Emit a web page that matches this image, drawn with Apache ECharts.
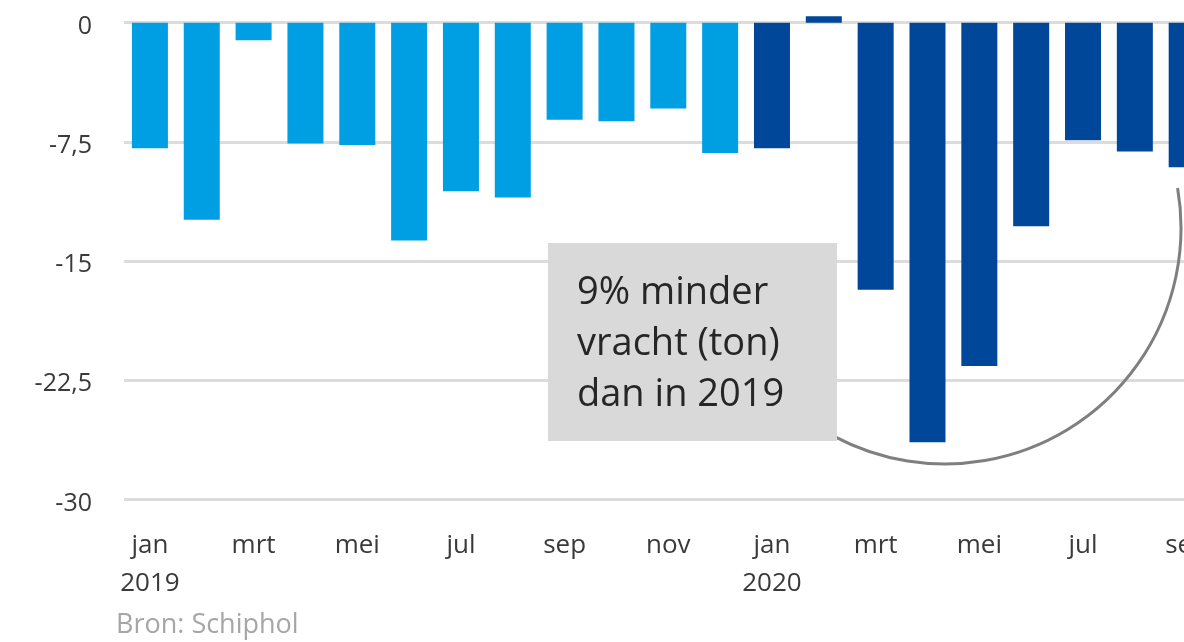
<!DOCTYPE html>
<html>
<head>
<meta charset="utf-8">
<script src="https://cdn.jsdelivr.net/npm/echarts@6/dist/echarts.min.js"></script>
<style>
html,body{margin:0;padding:0;background:#fff;}
#chart{width:1184px;height:642px;}
</style>
</head>
<body>
<div id="chart"></div>
<script>
// ---- data ----
var months2019 = ['jan\n2019','feb','mrt','apr','mei','jun','jul','aug','sep','okt','nov','dec'];
var months2020 = ['jan\n2020','feb','mrt','apr','mei','jun','jul','aug','sep'];
var values2019 = [-7.9, -12.4, -1.1, -7.6, -7.7, -13.7, -10.6, -11.0, -6.1, -6.2, -5.4, -8.2];
var values2020 = [-7.9, 0.4, -16.8, -26.4, -21.6, -12.8, -7.4, -8.1, -9.1];
var yTicks = [0, -7.5, -15, -22.5, -30];
var annotationLines = ['9% minder', 'vracht (ton)', 'dan in 2019'];
var sourceText = 'Bron: Schiphol';

var color2019 = '#009fe3';
var color2020 = '#00479a';

var categories = months2019.concat(months2020);
var barData = values2019.map(function (v) {
  return { value: v, itemStyle: { color: color2019 } };
}).concat(values2020.map(function (v) {
  return { value: v, itemStyle: { color: color2020 } };
}));

var chart = echarts.init(document.getElementById('chart'), null, { renderer: 'canvas' });
var font = '"Open Sans", "Noto Sans", sans-serif';

var option = {
  animation: false,
  backgroundColor: '#ffffff',
  grid: { left: 124, top: 22.7, bottom: 142.5, right: -28.6, containLabel: false, outerBoundsMode: 'none' },
  xAxis: {
    type: 'category',
    data: categories,
    boundaryGap: true,
    axisLine: { show: false },
    axisTick: { show: false },
    splitLine: { show: false },
    axisLabel: {
      interval: 1,
      color: '#3a3a3a',
      fontFamily: font,
      fontSize: 26,
      lineHeight: 38,
      margin: 27,
      align: 'center',
      hideOverlap: false
    }
  },
  yAxis: {
    type: 'value',
    min: yTicks[yTicks.length - 1],
    max: yTicks[0],
    interval: 7.5,
    axisLine: { show: false },
    axisTick: { show: false },
    splitLine: { show: true, lineStyle: { color: '#dcdcdc', width: 3 } },
    axisLabel: {
      color: '#3a3a3a',
      fontFamily: font,
      fontSize: 25,
      margin: 32,
      verticalAlign: 'top',
      lineHeight: 8,
      formatter: function (v) { return String(v).replace('.', ','); }
    }
  },
  series: [{
    type: 'bar',
    data: barData,
    barWidth: 36,
    clip: false,
    z: 3
  }],
  graphic: [
    {
      type: 'arc',
      z: 1,
      silent: true,
      shape: { cx: 945, cy: 228, r: 236, startAngle: -0.17, endAngle: 2.06, clockwise: true },
      style: { stroke: '#7f7f7f', lineWidth: 3, fill: null }
    },
    {
      type: 'rect',
      z: 5,
      silent: true,
      shape: { x: 548, y: 243, width: 289, height: 198 },
      style: { fill: '#d9d9d9' }
    },
    {
      type: 'text',
      z: 6,
      silent: true,
      style: {
        x: 577, y: 268,
        text: annotationLines.join('\n'),
        font: '38px ' + font,
        lineHeight: 51,
        fill: '#262626',
        verticalAlign: 'top',
        align: 'left'
      }
    },
    {
      type: 'text',
      z: 6,
      silent: true,
      style: {
        x: 116, y: 612,
        text: sourceText,
        font: '27px ' + font,
        fill: '#a6a6a6',
        verticalAlign: 'top',
        align: 'left'
      }
    }
  ]
};
chart.setOption(option);
</script>
</body>
</html>
